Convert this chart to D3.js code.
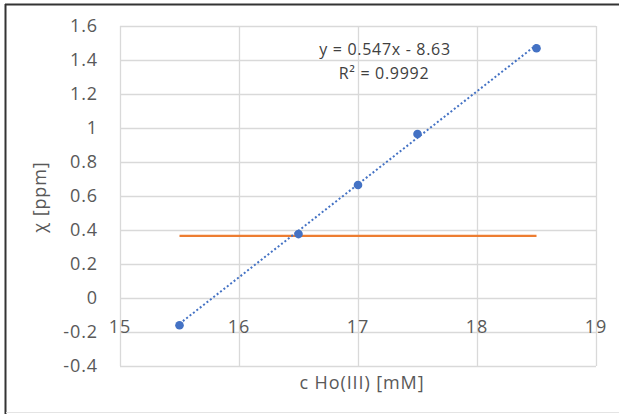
<!DOCTYPE html>
<html><head><meta charset="utf-8">
<script src="https://cdn.jsdelivr.net/npm/d3@7"></script>
<style>body{margin:0;background:#fff}svg{display:block}</style>
</head><body>
<svg id="c" width="619" height="414"></svg>
<script>
const xData = [15.5, 16.5, 17, 17.5, 18.5];
const yData = [-0.16, 0.376, 0.665, 0.965, 1.469];
const trendSlope = 0.547, trendIntercept = -8.63;
const refLevel = [0.365];
const refRange = [15.5, 18.5];
const xTicks = [15, 16, 17, 18, 19];
const yTicks = [-0.4, -0.2, 0, 0.2, 0.4, 0.6, 0.8, 1, 1.2, 1.4, 1.6];
const eqText = "y = 0.547x - 8.63";
const r2Text = "R\u00B2 = 0.9992";
const xTitle = "c Ho(III) [mM]";
const yTitle = "\u03C7 [ppm]";

const svg = d3.select("#c");
const font = "'Open Sans', sans-serif";
const L = 120, R = 596, T = 26, B = 366;
const x = d3.scaleLinear().domain([15, 19]).range([L, R]);
const y = d3.scaleLinear().domain([-0.4, 1.6]).range([B, T]);

// outer border (left/top dark, bottom light)
svg.append("line").attr("x1",5.5).attr("x2",5.5).attr("y1",4).attr("y2",414).attr("stroke","#333").attr("stroke-width",2);
svg.append("line").attr("x1",5).attr("x2",619).attr("y1",4.5).attr("y2",4.5).attr("stroke","#333").attr("stroke-width",2);
svg.append("line").attr("x1",6).attr("x2",619).attr("y1",412.5).attr("y2",412.5).attr("stroke","#e4e4e4").attr("stroke-width",1);

// gridlines
const grid = svg.append("g");
grid.selectAll(".h").data(yTicks).join("line")
  .attr("x1", L).attr("x2", R)
  .attr("y1", d => Math.round(y(d)) + 0.5).attr("y2", d => Math.round(y(d)) + 0.5)
  .attr("stroke", "#d9d9d9").attr("stroke-width", 1.3);
grid.selectAll(".v").data(xTicks).join("line")
  .attr("y1", T).attr("y2", B)
  .attr("x1", d => Math.round(x(d)) + 0.5).attr("x2", d => Math.round(x(d)) + 0.5)
  .attr("stroke", "#d9d9d9").attr("stroke-width", 1.3);

const lab = sel => sel.attr("fill", "#595959").style("font-family", font)
  .style("font-size", "18px").style("letter-spacing", "0.9px");

// y tick labels
svg.append("g").selectAll("text").data(yTicks).join("text")
  .attr("x", 98).attr("y", d => y(d)).attr("dy", "0.36em")
  .attr("text-anchor", "end").call(lab)
  .text(d => String(+d.toFixed(1)));

// x tick labels (axis crosses at 0)
svg.append("g").selectAll("text").data(xTicks).join("text")
  .attr("x", d => x(d)).attr("y", y(0) + 29).attr("dy", "0.36em")
  .attr("text-anchor", "middle").call(lab)
  .text(d => d);

// orange reference line
svg.append("line")
  .attr("x1", x(refRange[0])).attr("x2", x(refRange[1]))
  .attr("y1", y(refLevel[0])).attr("y2", y(refLevel[0]))
  .attr("stroke", "#ed7d31").attr("stroke-width", 2.2);

// trendline
const tx = d3.extent(xData);
svg.append("line")
  .attr("x1", x(tx[0])).attr("y1", y(trendSlope * tx[0] + trendIntercept))
  .attr("x2", x(tx[1])).attr("y2", y(trendSlope * tx[1] + trendIntercept))
  .attr("stroke", "#4472c4").attr("stroke-width", 2)
  .attr("stroke-dasharray", "2,2.3");

// points
svg.append("g").selectAll("circle").data(xData).join("circle")
  .attr("cx", d => x(d)).attr("cy", (d, i) => y(yData[i]))
  .attr("r", 4.3).attr("fill", "#4472c4");

// equation
const eq = sel => sel.attr("text-anchor", "middle").attr("fill", "#404040")
  .style("font-family", font).style("font-size", "16px").style("letter-spacing", "0.7px");
svg.append("text").attr("x", 385).attr("y", 49).attr("dy", "0.36em").call(eq).text(eqText);
svg.append("text").attr("x", 384).attr("y", 73).attr("dy", "0.36em").call(eq).text(r2Text);

// axis titles
svg.append("text").attr("x", 362).attr("y", 383).attr("dy", "0.36em")
  .attr("text-anchor", "middle").call(lab).text(xTitle);
svg.append("text").attr("transform", "translate(40,197) rotate(-90)").attr("dy", "0.36em")
  .attr("text-anchor", "middle").call(lab).text(yTitle);
</script>
</body></html>
